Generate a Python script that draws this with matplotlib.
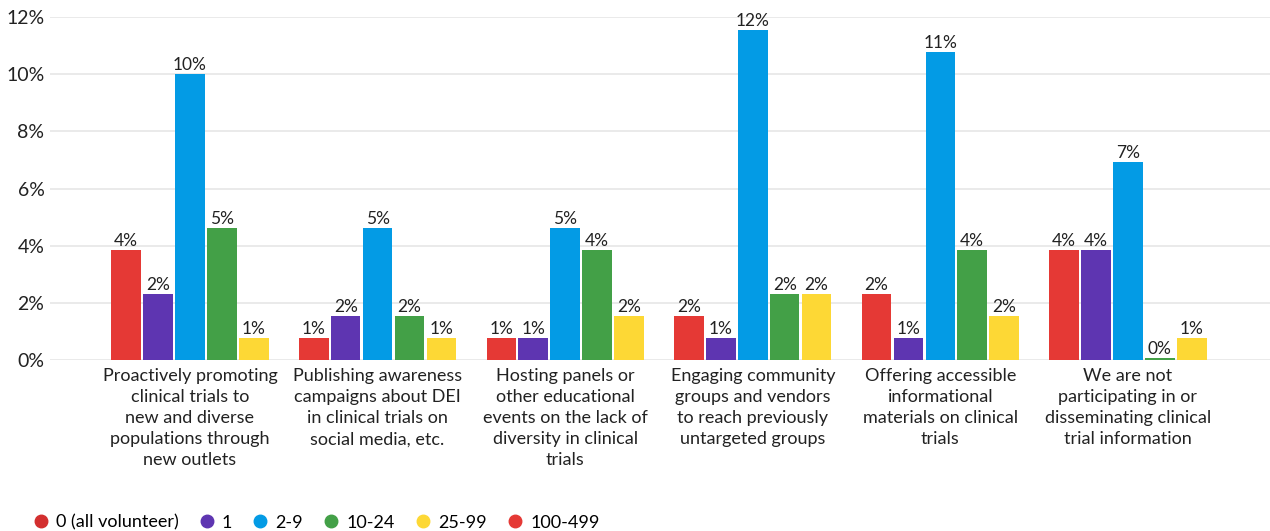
import matplotlib
matplotlib.use("Agg")
import matplotlib.pyplot as plt
from matplotlib.lines import Line2D
import numpy as np

plt.rcParams['font.family'] = ['Lato', 'DejaVu Sans']

categories = [
    "Proactively promoting\nclinical trials to\nnew and diverse\npopulations through\nnew outlets",
    "Publishing awareness\ncampaigns about DEI\nin clinical trials on\nsocial media, etc.",
    "Hosting panels or\nother educational\nevents on the lack of\ndiversity in clinical\ntrials",
    "Engaging community\ngroups and vendors\nto reach previously\nuntargeted groups",
    "Offering accessible\ninformational\nmaterials on clinical\ntrials",
    "We are not\nparticipating in or\ndisseminating clinical\ntrial information",
]
series_names = ["0 (all volunteer)", "1", "2-9", "10-24", "25-99", "100-499"]
s0 = [3.85, 0.77, 0.77, 1.54, 2.31, 3.85]
s1 = [2.31, 1.54, 0.77, 0.77, 0.77, 3.85]
s2_9 = [10.0, 4.62, 4.62, 11.54, 10.77, 6.92]
s10_24 = [4.62, 1.54, 3.85, 2.31, 3.85, 0.07]
s25_99 = [0.77, 0.77, 1.54, 2.31, 1.54, 0.77]
bar_series = [s0, s1, s2_9, s10_24, s25_99]
bar_colors = ["#E53935", "#5E35B1", "#039BE5", "#43A047", "#FDD835"]
legend_colors = ["#D32F2F", "#5E35B1", "#039BE5", "#43A047", "#FDD835", "#E53935"]
yticks = [0, 2, 4, 6, 8, 10, 12]

fig = plt.figure(figsize=(12.7, 5.31), dpi=100)
ax = fig.add_axes([50/1270, (531-360)/531, 1 - 50/1270, (360-17)/531])

x = np.arange(len(categories))
step = 0.17
width = 0.158
for i, (vals, col) in enumerate(zip(bar_series, bar_colors)):
    off = (i - 2) * step
    bars = ax.bar(x + off, vals, width, color=col, edgecolor='none', zorder=3)
    for b, v in zip(bars, vals):
        ax.text(b.get_x() + b.get_width()/2, b.get_height() + 0.04, f"{round(v):.0f}%",
                ha='center', va='bottom', fontsize=12.5, color='#222222', zorder=4)

ax.set_xlim(-0.746, 5.757)
ax.set_ylim(0, 12)
ax.set_yticks(yticks)
ax.set_yticklabels([f"{t}%" for t in yticks], fontsize=14, color='#222222')
ax.set_xticks(x)
ax.set_xticklabels(categories, fontsize=13, color='#222222', linespacing=1.38)
ax.tick_params(axis='both', length=0)
ax.tick_params(axis='y', pad=4)
ax.tick_params(axis='x', pad=6)
ax.yaxis.grid(True, color='#E6E6E6', linewidth=1.2, zorder=0)
for s in ax.spines.values():
    s.set_visible(False)
ax.set_axisbelow(True)

handles = [Line2D([], [], marker='o', linestyle='none', markersize=9,
                  markerfacecolor=c, markeredgecolor=c) for c in legend_colors]
fig.legend(handles, series_names, loc='lower left', bbox_to_anchor=(0.012, -0.03),
           ncol=6, frameon=False, fontsize=13, handletextpad=0.35, columnspacing=1.05,
           handlelength=1.0)

fig.savefig("out.png", dpi=100)
